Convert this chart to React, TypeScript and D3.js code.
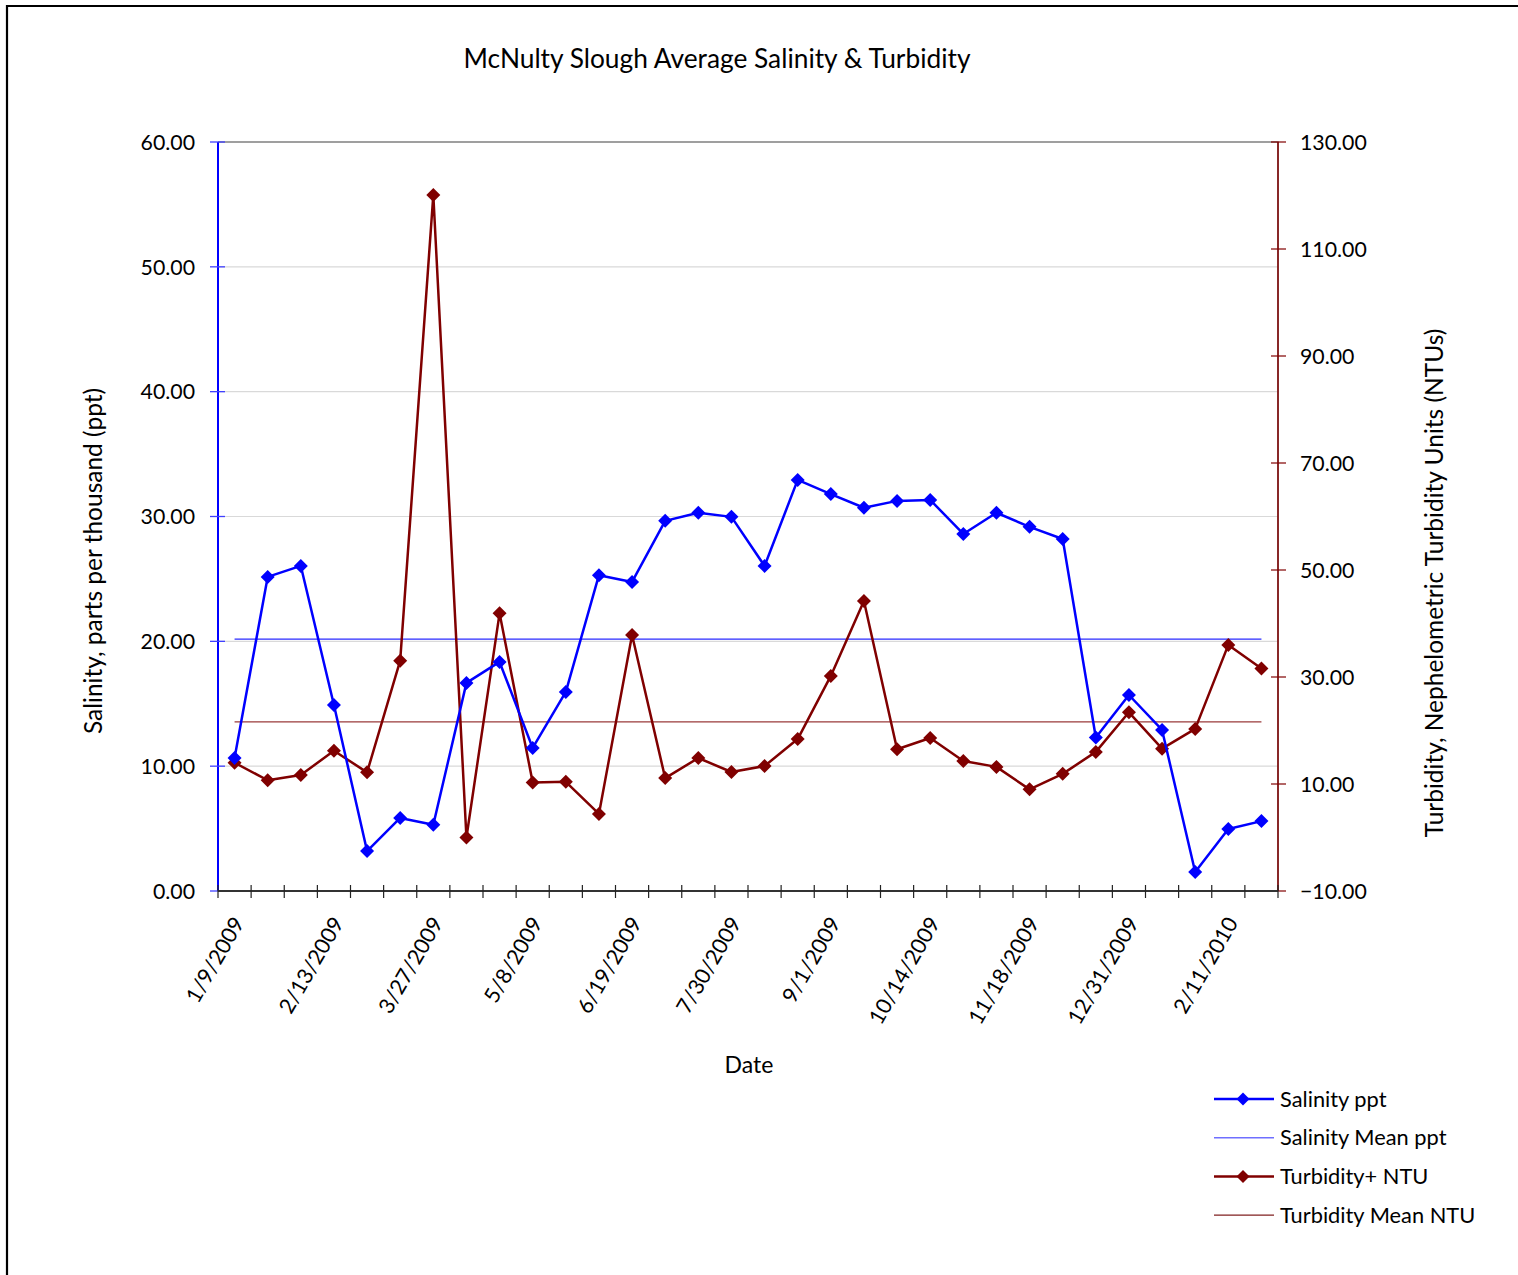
import React, { useEffect, useRef } from "react";
import * as d3 from "d3";

const TITLE = "McNulty Slough Average Salinity & Turbidity";
const LEFT_TITLE = "Salinity, parts per thousand (ppt)";
const RIGHT_TITLE = "Turbidity, Nephelometric Turbidity Units (NTUs)";
const X_TITLE = "Date";

// 32 sampling events (category axis); only every third is labelled
const salinity = [
  10.66, 25.16, 26.04, 14.9, 3.2, 5.85, 5.3, 16.67, 18.35, 11.46, 15.95, 25.3,
  24.76, 29.65, 30.3, 29.97, 26.04, 32.93, 31.8, 30.7, 31.25, 31.33, 28.6, 30.3,
  29.17, 28.2, 12.3, 15.7, 12.9, 1.52, 4.97, 5.6,
];
const turbidity = [
  13.97, 10.7, 11.68, 16.22, 12.18, 33.05, 120.1, 0.0, 41.9, 10.3, 10.4, 4.4,
  37.85, 11.1, 14.86, 12.24, 13.36, 18.4, 30.2, 44.2, 16.5, 18.6, 14.3, 13.2,
  9.0, 11.9, 16.0, 23.4, 16.6, 20.3, 36.0, 31.6,
];
const salinityMean = 20.17;
const turbidityMean = 21.6;

const tickIndices = [0, 3, 6, 9, 12, 15, 18, 21, 24, 27, 30];
const tickLabels = [
  "1/9/2009", "2/13/2009", "3/27/2009", "5/8/2009", "6/19/2009", "7/30/2009",
  "9/1/2009", "10/14/2009", "11/18/2009", "12/31/2009", "2/11/2010",
];
const leftTicks = [0, 10, 20, 30, 40, 50, 60];
const rightTicks = [-10, 10, 30, 50, 70, 90, 110, 130];

const legendItems = [
  { label: "Salinity ppt", color: "#0000FF", marker: true, width: 2.5 },
  { label: "Salinity Mean ppt", color: "#6f6fff", marker: false, width: 1.5 },
  { label: "Turbidity+ NTU", color: "#800000", marker: true, width: 2.5 },
  { label: "Turbidity Mean NTU", color: "#802020", marker: false, width: 1.2 },
];

const W = 1518;
const H = 1275;
const FONT = "Lato, 'Open Sans', sans-serif";

export default function App() {
  const ref = useRef<SVGSVGElement | null>(null);

  useEffect(() => {
    const svg = d3.select(ref.current);
    svg.selectAll("*").remove();

    const L = 218, R = 1278, T = 142, B = 891;
    const n = salinity.length;
    const x = d3.scaleBand<number>().domain(d3.range(n)).range([L, R]).padding(0);
    const cx = (i: number) => (x(i) as number) + x.bandwidth() / 2;
    const yL = d3.scaleLinear().domain([0, 60]).range([B, T]);
    const yR = d3.scaleLinear().domain([-10, 130]).range([B, T]);

    // outer frame
    svg.append("path").attr("d", `M7,${H} L7,6 L${W},6`).attr("fill", "none")
      .attr("stroke", "#000").attr("stroke-width", 2.2);

    // title
    svg.append("text").attr("x", 717).attr("y", 68).attr("text-anchor", "middle")
      .attr("font-family", FONT).attr("font-size", 26.3).attr("fill", "#000").text(TITLE);

    // gridlines
    svg.append("g").selectAll("line").data(leftTicks.filter(t => t > 0 && t < 60)).join("line")
      .attr("x1", L).attr("x2", R).attr("y1", d => yL(d)).attr("y2", d => yL(d))
      .attr("stroke", "#d9d9d9").attr("stroke-width", 1.2);
    // plot area border top/right
    svg.append("path").attr("d", `M${L},${T} L${R},${T} L${R},${B}`).attr("fill", "none")
      .attr("stroke", "#808080").attr("stroke-width", 1.5);

    // mean lines
    svg.append("line").attr("x1", cx(0)).attr("x2", cx(n - 1))
      .attr("y1", yL(salinityMean)).attr("y2", yL(salinityMean))
      .attr("stroke", "#2a2aff").attr("stroke-width", 1.2);
    svg.append("line").attr("x1", cx(0)).attr("x2", cx(n - 1))
      .attr("y1", yR(turbidityMean)).attr("y2", yR(turbidityMean))
      .attr("stroke", "#9a3a3a").attr("stroke-width", 1.3);

    // left axis
    const gl = svg.append("g");
    gl.append("line").attr("x1", L).attr("x2", L).attr("y1", T).attr("y2", B)
      .attr("stroke", "#0000FF").attr("stroke-width", 2);
    gl.selectAll("line.t").data(leftTicks).join("line").attr("class", "t")
      .attr("x1", L - 8).attr("x2", L + 7).attr("y1", d => yL(d)).attr("y2", d => yL(d))
      .attr("stroke", "#4040ff").attr("stroke-width", 1.3);
    gl.selectAll("text").data(leftTicks).join("text")
      .attr("x", 195).attr("y", d => yL(d)).attr("dy", "0.36em").attr("text-anchor", "end")
      .attr("font-family", FONT).attr("font-size", 21.3).attr("fill", "#000")
      .text(d => d3.format(".2f")(d));

    // right axis
    const gr = svg.append("g");
    gr.append("line").attr("x1", R).attr("x2", R).attr("y1", T).attr("y2", B)
      .attr("stroke", "#800000").attr("stroke-width", 1.5);
    gr.selectAll("line.t").data(rightTicks).join("line").attr("class", "t")
      .attr("x1", R - 7).attr("x2", R + 8).attr("y1", d => yR(d)).attr("y2", d => yR(d))
      .attr("stroke", "#800000").attr("stroke-width", 1.2);
    gr.selectAll("text").data(rightTicks).join("text")
      .attr("x", 1300).attr("y", d => yR(d)).attr("dy", "0.36em").attr("text-anchor", "start")
      .attr("font-family", FONT).attr("font-size", 21.3).attr("fill", "#000")
      .text(d => d3.format(".2f")(d));

    // bottom axis
    const gb = svg.append("g");
    gb.append("line").attr("x1", L).attr("x2", R).attr("y1", B).attr("y2", B)
      .attr("stroke", "#333").attr("stroke-width", 2);
    const bounds = d3.range(n + 1).map(i => (i < n ? (x(i) as number) : R));
    gb.selectAll("line.t").data(bounds).join("line").attr("class", "t")
      .attr("x1", d => d).attr("x2", d => d).attr("y1", B - 6).attr("y2", B + 7)
      .attr("stroke", "#222").attr("stroke-width", 1.2);
    gb.selectAll("text").data(tickIndices).join("text")
      .attr("transform", i => `translate(${cx(i) + 4},${B + 28}) rotate(-60)`)
      .attr("text-anchor", "end").attr("dy", "0.35em")
      .attr("font-family", FONT).attr("font-size", 21.5).attr("fill", "#000")
      .text((_, k) => tickLabels[k]);

    // axis titles
    svg.append("text").attr("transform", `translate(102,561) rotate(-90)`)
      .attr("text-anchor", "middle").attr("font-family", FONT).attr("font-size", 24.5)
      .attr("fill", "#000").text(LEFT_TITLE);
    svg.append("text").attr("transform", `translate(1443,583) rotate(-90)`)
      .attr("text-anchor", "middle").attr("font-family", FONT).attr("font-size", 24.5)
      .attr("fill", "#000").text(RIGHT_TITLE);
    svg.append("text").attr("x", 749).attr("y", 1073).attr("text-anchor", "middle")
      .attr("font-family", FONT).attr("font-size", 23).attr("fill", "#000").text(X_TITLE);

    const diamond = (s: number) => `M0,${-s} L${s},0 L0,${s} L${-s},0 Z`;

    // turbidity series
    const lineR = d3.line<number>().x((_, i) => cx(i)).y(d => yR(d));
    svg.append("path").attr("d", lineR(turbidity)).attr("fill", "none")
      .attr("stroke", "#800000").attr("stroke-width", 2.5).attr("stroke-linejoin", "round");
    svg.append("g").selectAll("path").data(turbidity).join("path")
      .attr("transform", (d, i) => `translate(${cx(i)},${yR(d)})`)
      .attr("d", diamond(7)).attr("fill", "#800000");

    // salinity series
    const lineL = d3.line<number>().x((_, i) => cx(i)).y(d => yL(d));
    svg.append("path").attr("d", lineL(salinity)).attr("fill", "none")
      .attr("stroke", "#0000FF").attr("stroke-width", 2.5).attr("stroke-linejoin", "round");
    svg.append("g").selectAll("path").data(salinity).join("path")
      .attr("transform", (d, i) => `translate(${cx(i)},${yL(d)})`)
      .attr("d", diamond(7)).attr("fill", "#0000FF");

    // legend
    const lg = svg.append("g");
    legendItems.forEach((it, k) => {
      const y = 1099 + k * 38.7;
      lg.append("line").attr("x1", 1214).attr("x2", 1274).attr("y1", y).attr("y2", y)
        .attr("stroke", it.color).attr("stroke-width", it.width);
      if (it.marker) {
        lg.append("path").attr("transform", `translate(1243,${y})`).attr("d", diamond(6.5))
          .attr("fill", it.color);
      }
      lg.append("text").attr("x", 1280).attr("y", y).attr("dy", "0.35em")
        .attr("font-family", FONT).attr("font-size", 21.8).attr("fill", "#000").text(it.label);
    });
  }, []);

  return (
    <svg ref={ref} width={W} height={H}
      style={{ position: "absolute", left: 0, top: 0, background: "#fff" }} />
  );
}
